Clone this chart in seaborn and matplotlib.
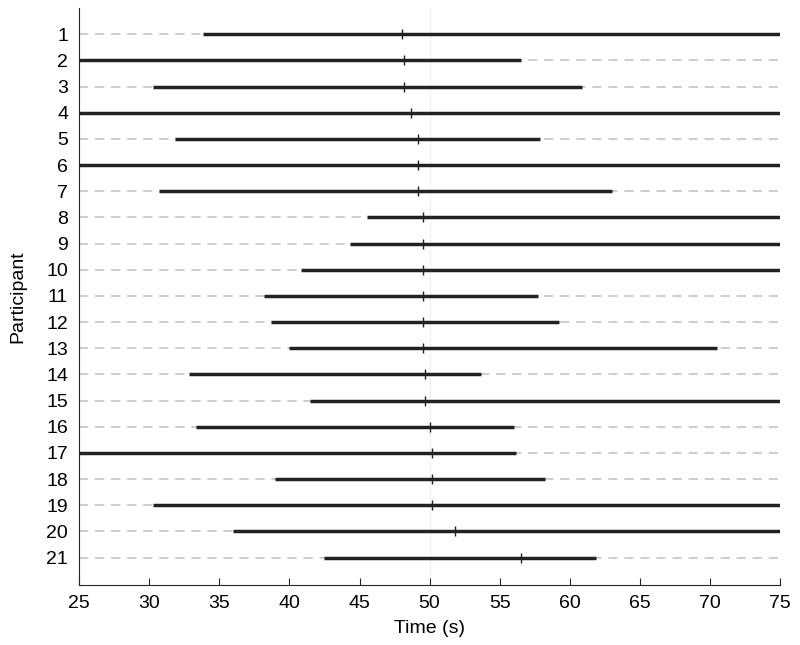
import numpy as np
import pandas as pd
import seaborn as sns
import matplotlib.pyplot as plt

participants = list(range(1, 22))
start = [33.8, 25.0, 30.3, 25.0, 31.8, 25.0, 30.7, 45.5, 44.3, 40.8, 38.2,
         38.7, 40.0, 32.8, 41.5, 33.3, 25.0, 39.0, 30.3, 36.0, 42.5]
end = [75.0, 56.5, 60.9, 75.0, 57.9, 75.0, 63.0, 75.0, 75.0, 75.0, 57.7,
       59.2, 70.5, 53.7, 75.0, 56.0, 56.2, 58.2, 75.0, 75.0, 61.9]
mark = [48.0, 48.2, 48.2, 48.7, 49.2, 49.2, 49.2, 49.5, 49.5, 49.5, 49.5,
        49.5, 49.5, 49.7, 49.7, 50.0, 50.2, 50.2, 50.2, 51.8, 56.5]

df = pd.DataFrame({"Participant": participants, "start": start, "end": end, "mark": mark})

sns.set_style("ticks")
plt.rcParams['font.family'] = ['Liberation Sans', 'DejaVu Sans']

fig = plt.figure(figsize=(8, 6.45), dpi=100)
ax = fig.add_axes([0.099, 0.093, 0.876, 0.8945])

# dashed guide lines for every participant
ax.hlines(df["Participant"], 25, 75, colors="#c0c0c0", linestyles=(0, (6, 4.5)), linewidth=1.1, zorder=1)
ax.axvline(50, color="#f0f0f0", linewidth=0.8, zorder=0)

# observed intervals
ax.hlines(df["Participant"], df["start"], df["end"], colors="#222222", linewidth=2.5, zorder=2)

# marker per participant
sns.scatterplot(data=df, x="mark", y="Participant", marker="|", s=55, color="#222222",
                linewidth=1.0, ax=ax, zorder=3, legend=False)

ax.set_xlim(25, 75)
ax.set_ylim(22.05, 0)
ax.set_xticks(np.arange(25, 76, 5))
ax.set_yticks(participants)
ax.set_yticklabels([str(p) for p in participants])
ax.tick_params(axis="x", direction="in", length=5, width=0.8, labelsize=14, pad=7, labelcolor="black")
ax.tick_params(axis="y", length=0, labelsize=14, pad=8, labelcolor="black")
ax.set_xlabel("Time (s)", fontsize=14, labelpad=6, color="black")
ax.set_ylabel("Participant", fontsize=14, labelpad=14, color="black")
for s in ["top", "right"]:
    ax.spines[s].set_visible(False)
ax.spines["left"].set_linewidth(0.8)
ax.spines["bottom"].set_linewidth(0.8)

plt.savefig("out.png", dpi=100)
